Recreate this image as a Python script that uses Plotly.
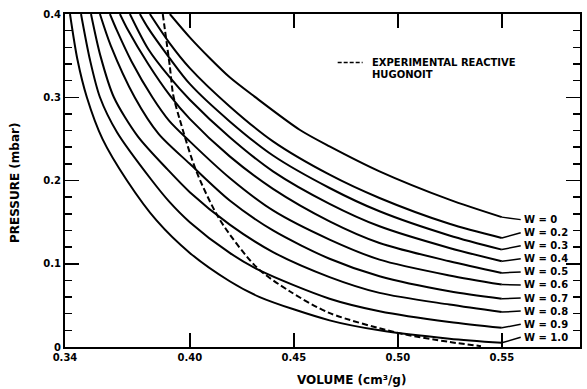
import plotly.graph_objects as go

# ---- data (volume cm^3/g, pressure mbar) ----
w_labels = ["W = 0", "W = 0.2", "W = 0.3", "W = 0.4", "W = 0.5",
            "W = 0.6", "W = 0.7", "W = 0.8", "W = 0.9", "W = 1.0"]

v_w00 = [0.3904, 0.40, 0.41, 0.4192, 0.431, 0.4528, 0.4672, 0.4912, 0.5248, 0.55]
p_w00 = [0.400, 0.372, 0.346, 0.324, 0.301, 0.261, 0.241, 0.211, 0.177, 0.156]

v_w02 = [0.3808, 0.39, 0.40, 0.4192, 0.44, 0.4672, 0.4912, 0.5248, 0.55]
p_w02 = [0.400, 0.366, 0.335, 0.289, 0.247, 0.207, 0.179, 0.148, 0.131]

v_w03 = [0.376, 0.38, 0.39, 0.40, 0.4192, 0.44, 0.4672, 0.4912, 0.5248, 0.55]
p_w03 = [0.400, 0.383, 0.348, 0.316, 0.271, 0.230, 0.191, 0.163, 0.134, 0.117]

v_w04 = [0.3712, 0.38, 0.39, 0.40, 0.4192, 0.44, 0.4672, 0.4912, 0.5248, 0.55]
p_w04 = [0.400, 0.358, 0.325, 0.297, 0.252, 0.211, 0.172, 0.145, 0.119, 0.103]

v_w05 = [0.3664, 0.37, 0.38, 0.3905, 0.40, 0.4192, 0.44, 0.4672, 0.4912, 0.5248, 0.55]
p_w05 = [0.400, 0.382, 0.340, 0.302, 0.274, 0.229, 0.190, 0.151, 0.125, 0.103, 0.089]

v_w06 = [0.3616, 0.365, 0.372, 0.382, 0.39, 0.40, 0.4192, 0.44, 0.4672, 0.4912, 0.5248, 0.55]
p_w06 = [0.400, 0.380, 0.343, 0.300, 0.272, 0.247, 0.203, 0.164, 0.129, 0.105, 0.086, 0.075]

v_w07 = [0.3568, 0.362, 0.3735, 0.385, 0.40, 0.4192, 0.44, 0.4672, 0.4912, 0.5248, 0.55]
p_w07 = [0.400, 0.362, 0.300, 0.256, 0.220, 0.176, 0.140, 0.106, 0.085, 0.067, 0.058]

v_w08 = [0.3525, 0.357, 0.3635, 0.375, 0.3894, 0.40, 0.4192, 0.44, 0.4672, 0.4912, 0.5248, 0.55]
p_w08 = [0.400, 0.350, 0.300, 0.253, 0.213, 0.186, 0.147, 0.114, 0.084, 0.065, 0.051, 0.042]

v_w09 = [0.3477, 0.352, 0.3568, 0.365, 0.3818, 0.39, 0.40, 0.4192, 0.4336, 0.4672, 0.4912, 0.5248, 0.55]
p_w09 = [0.400, 0.345, 0.300, 0.258, 0.200, 0.175, 0.150, 0.113, 0.092, 0.058, 0.043, 0.030, 0.023]

v_w10 = [0.3424, 0.346, 0.3505, 0.358, 0.3698, 0.384, 0.40, 0.4192, 0.4336, 0.4672, 0.4912, 0.5248, 0.55]
p_w10 = [0.400, 0.345, 0.300, 0.250, 0.200, 0.152, 0.113, 0.079, 0.060, 0.032, 0.020, 0.010, 0.005]

v_hug = [0.387, 0.3904, 0.392, 0.3952, 0.403, 0.4144, 0.432, 0.448, 0.467, 0.50, 0.525, 0.54]
p_hug = [0.400, 0.337, 0.303, 0.273, 0.212, 0.153, 0.096, 0.067, 0.041, 0.017, 0.006, 0.001]

x_tickvals = [0.34, 0.40, 0.45, 0.50, 0.55]
x_ticktext = ["0.34", "0.40", "0.45", "0.50", "0.55"]
y_tickvals = [0, 0.1, 0.2, 0.3, 0.4]
y_ticktext = ["0", "0.1", "0.2", "0.3", "0.4"]

curves_v = [v_w00, v_w02, v_w03, v_w04, v_w05, v_w06, v_w07, v_w08, v_w09, v_w10]
curves_p = [p_w00, p_w02, p_w03, p_w04, p_w05, p_w06, p_w07, p_w08, p_w09, p_w10]

FONT = "DejaVu Sans"
W, H = 587, 389
ML, MR, MT, MB = 65, 7, 14, 42
PW, PH = W - ML - MR, H - MT - MB

fig = go.Figure()

for v, p, name in zip(curves_v, curves_p, w_labels):
    fig.add_trace(go.Scatter(x=v, y=p, mode="lines", name=name,
                             line=dict(color="black", width=2, shape="spline", smoothing=0.8),
                             showlegend=False, hoverinfo="skip"))

fig.add_trace(go.Scatter(x=v_hug, y=p_hug, mode="lines", name="Experimental reactive Hugoniot",
                         line=dict(color="black", width=2, dash="6px,3px", shape="spline", smoothing=0.8),
                         showlegend=False, hoverinfo="skip"))

# labels with leader lines (layout positions)
label_x = 0.5599
label_top = 0.153
label_step = 0.0157
for i, (v, p, name) in enumerate(zip(curves_v, curves_p, w_labels)):
    ly = label_top - i * label_step
    fig.add_trace(go.Scatter(x=[v[-1], label_x - 0.0008], y=[p[-1], ly], mode="lines",
                             line=dict(color="black", width=1.5), showlegend=False,
                             hoverinfo="skip"))
    fig.add_annotation(x=label_x, y=ly, xref="x", yref="y", text="<b>" + name + "</b>",
                       showarrow=False, xanchor="left", yanchor="middle",
                       font=dict(family=FONT, size=10, color="black"))

# legend sample
fig.add_shape(type="line", xref="x", yref="y", x0=0.4711, x1=0.4831, y0=0.3418, y1=0.3418,
              line=dict(color="black", width=1.5, dash="4px,2px"))
fig.add_annotation(x=0.4864, y=0.3418, xref="x", yref="y", text="<b>EXPERIMENTAL REACTIVE</b>",
                   showarrow=False, xanchor="left", yanchor="middle",
                   font=dict(family=FONT, size=10, color="black"))
fig.add_annotation(x=0.4864, y=0.3273, xref="x", yref="y", text="<b>HUGONOIT</b>",
                   showarrow=False, xanchor="left", yanchor="middle",
                   font=dict(family=FONT, size=10, color="black"))

# axis titles (placed in pixel terms, converted to paper coords)
fig.add_annotation(x=(351 - ML) / PW, y=-(380 - (H - MB)) / PH, xref="paper", yref="paper",
                   text="<b>VOLUME (cm³/g)</b>", showarrow=False, xanchor="center", yanchor="middle",
                   font=dict(family=FONT, size=12, color="black"))
fig.add_annotation(x=(15 - ML) / PW, y=((H - MB) - 183) / PH, xref="paper", yref="paper",
                   text="<b>PRESSURE (mbar)</b>", showarrow=False, textangle=-90,
                   xanchor="center", yanchor="middle",
                   font=dict(family=FONT, size=12, color="black"))

fig.update_layout(
    width=W, height=H,
    margin=dict(l=ML, r=MR, t=MT, b=MB),
    paper_bgcolor="white", plot_bgcolor="white",
    font=dict(family=FONT, size=10, color="black"),
    hovermode=False,
    xaxis=dict(range=[0.34, 0.5876], tickvals=x_tickvals,
               ticktext=["<b>" + t + "</b>" for t in x_ticktext],
               ticks="inside", ticklen=14, tickwidth=1.5, tickcolor="black",
               showline=True, linewidth=2, linecolor="black", mirror="ticks",
               showgrid=False, zeroline=False, automargin=False),
    yaxis=dict(range=[0, 0.4], tickvals=y_tickvals,
               ticktext=["<b>" + t + "</b>" for t in y_ticktext],
               ticks="inside", ticklen=14, tickwidth=1.5, tickcolor="black",
               minor=dict(dtick=0.02, ticks="inside", ticklen=7, tickwidth=1.5, tickcolor="black"),
               showline=True, linewidth=2, linecolor="black", mirror="ticks",
               showgrid=False, zeroline=False, automargin=False),
)

fig.write_html("out.html", config={"displayModeBar": False, "staticPlot": True},
               post_script="document.body.style.margin='0';document.body.style.overflow='hidden';")
